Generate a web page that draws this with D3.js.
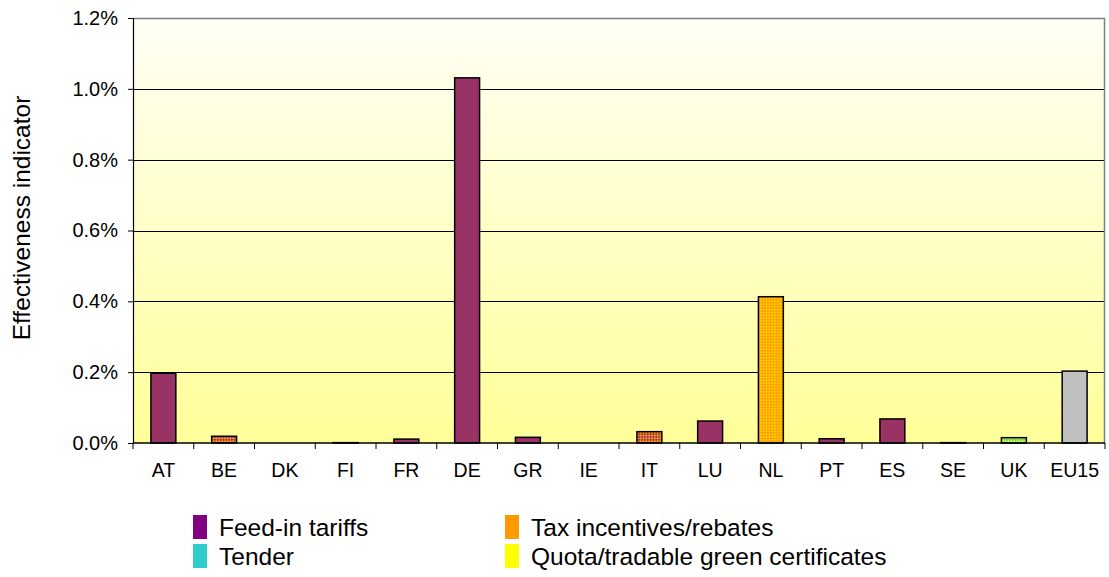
<!DOCTYPE html>
<html>
<head>
<meta charset="utf-8">
<script src="https://cdn.jsdelivr.net/npm/d3@7"></script>
<style>
  html, body { margin: 0; padding: 0; background: #ffffff; }
  svg { display: block; font-family: "Liberation Sans", Arial, sans-serif; }
</style>
</head>
<body>
<svg id="chart" width="1109" height="577"></svg>
<script>
// Effectiveness indicator by member state (values in %)
const countries = ["AT", "BE", "DK", "FI", "FR", "DE", "GR", "IE", "IT", "LU", "NL", "PT", "ES", "SE", "UK", "EU15"];
const values = [0.197, 0.019, 0, 0.001, 0.011, 1.031, 0.016, 0, 0.032, 0.062, 0.413, 0.012, 0.068, 0.001, 0.015, 0.203];
// Support instrument(s) in place for each country
const instruments = ["feed", "feed+tax", "feed", "tax", "feed", "feed", "feed", "tender", "feed+tax", "feed", "tax+quota", "feed", "feed", "quota", "quota+tender", "all"];
const yTicks = [0, 0.2, 0.4, 0.6, 0.8, 1.0, 1.2];
const legendItems = ["Feed-in tariffs", "Tax incentives/rebates", "Tender", "Quota/tradable green certificates"];

const svg = d3.select("#chart");
const margin = { left: 133, right: 1105, top: 18, bottom: 443 };

const x = d3.scaleBand().domain(countries).range([margin.left, margin.right]).padding(0);
const y = d3.scaleLinear().domain([0, 1.2]).range([margin.bottom, margin.top]);

const defs = svg.append("defs");

// Plot background: white fading into pale yellow
const grad = defs.append("linearGradient").attr("id", "bg").attr("x1", 0).attr("y1", 0).attr("x2", 0).attr("y2", 1);
grad.append("stop").attr("offset", "0%").attr("stop-color", "#fffff6");
grad.append("stop").attr("offset", "100%").attr("stop-color", "#ffff99");

// Two-colour checker fills for mixed instruments
function checker(id, a, b) {
  const p = defs.append("pattern").attr("id", id).attr("patternUnits", "userSpaceOnUse")
    .attr("width", 4).attr("height", 4).attr("patternTransform", "rotate(45)");
  p.append("rect").attr("width", 4).attr("height", 4).attr("fill", a);
  p.append("rect").attr("width", 2).attr("height", 2).attr("fill", b);
  p.append("rect").attr("x", 2).attr("y", 2).attr("width", 2).attr("height", 2).attr("fill", b);
}
checker("feedTax", "#ff9900", "#993366");
checker("taxQuota", "#ff9900", "#ffcc00");
checker("quotaTender", "#ffff00", "#33cccc");

const fillFor = {
  "feed": "#993366",
  "tax": "#ff9900",
  "tender": "#33cccc",
  "quota": "#ffff00",
  "feed+tax": "url(#feedTax)",
  "tax+quota": "url(#taxQuota)",
  "quota+tender": "url(#quotaTender)",
  "all": "#c0c0c0"
};

svg.append("rect")
  .attr("x", margin.left).attr("y", margin.top)
  .attr("width", margin.right - margin.left).attr("height", margin.bottom - margin.top)
  .attr("fill", "url(#bg)");

// Horizontal gridlines
svg.append("g").selectAll("line")
  .data(yTicks.filter(t => t > 0 && t < 1.2))
  .join("line")
  .attr("x1", margin.left).attr("x2", margin.right)
  .attr("y1", d => Math.round(y(d)) + 0.5).attr("y2", d => Math.round(y(d)) + 0.5)
  .attr("stroke", "#000").attr("stroke-width", 1);

// Plot frame (top and right)
svg.append("path")
  .attr("d", `M${margin.left},${margin.top + 0.5}H${margin.right - 0.5}V${margin.bottom}`)
  .attr("fill", "none").attr("stroke", "#808080").attr("stroke-width", 1.5);

// Bars
const barW = x.bandwidth() * 0.41;
svg.append("g").selectAll("rect")
  .data(countries.map((c, i) => ({ c, v: values[i], k: instruments[i] })).filter(d => d.v > 0))
  .join("rect")
  .attr("x", d => x(d.c) + (x.bandwidth() - barW) / 2)
  .attr("y", d => y(d.v))
  .attr("width", barW)
  .attr("height", d => y(0) - y(d.v))
  .attr("fill", d => fillFor[d.k])
  .attr("stroke", "#000").attr("stroke-width", 1.5);

// Y axis
const yAxis = svg.append("g")
  .attr("transform", `translate(${margin.left},0)`)
  .call(d3.axisLeft(y).tickValues(yTicks).tickSize(5).tickPadding(10).tickFormat(d => d.toFixed(1) + "%"));
yAxis.select(".domain").attr("stroke", "#000").attr("stroke-width", 1.2);
yAxis.selectAll(".tick line").attr("stroke", "#000");
yAxis.selectAll("text").attr("font-size", 20).attr("fill", "#000")
  .attr("font-family", "Liberation Sans, Arial, sans-serif");

// X axis with ticks between categories
const xAxis = svg.append("g").attr("transform", `translate(0,${margin.bottom})`);
xAxis.append("line").attr("x1", margin.left).attr("x2", margin.right)
  .attr("y1", 0).attr("y2", 0).attr("stroke", "#000").attr("stroke-width", 1.5);
xAxis.selectAll("line.sep")
  .data(countries.map(c => x(c)).concat([margin.right]))
  .join("line").attr("class", "sep")
  .attr("x1", d => d).attr("x2", d => d).attr("y1", 0).attr("y2", 6)
  .attr("stroke", "#000");
xAxis.selectAll("text")
  .data(countries)
  .join("text")
  .attr("x", d => x(d) + x.bandwidth() / 2)
  .attr("y", 34)
  .attr("text-anchor", "middle")
  .attr("font-size", 19.5)
  .text(d => d);

// Y axis title
svg.append("text")
  .attr("transform", "translate(30,218) rotate(-90)")
  .attr("text-anchor", "middle")
  .attr("font-size", 24.5)
  .text("Effectiveness indicator");

// Legend
const legendColors = ["#800080", "#ff9900", "#33cccc", "#ffff00"];
const legend = svg.append("g");
legendItems.forEach((label, i) => {
  const col = i % 2, row = Math.floor(i / 2);
  const lx = col === 0 ? 193 : 505;
  const ly = 515 + row * 29;
  legend.append("rect").attr("x", lx).attr("y", ly).attr("width", 14).attr("height", 24).attr("fill", legendColors[i]);
  legend.append("text").attr("x", lx + 26).attr("y", ly + 21).attr("font-size", 24.5).text(label);
});
</script>
</body>
</html>
